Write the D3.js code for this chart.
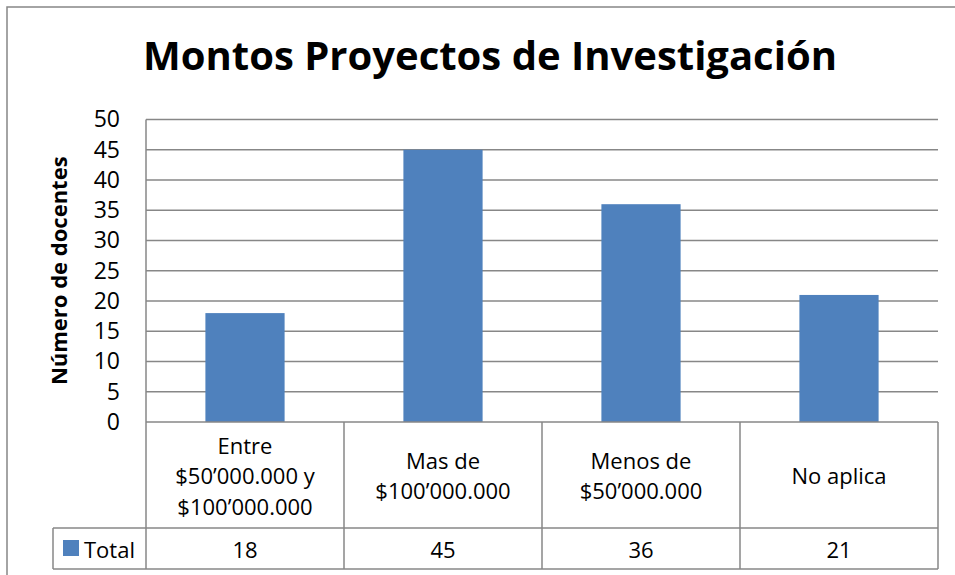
<!DOCTYPE html>
<html>
<head>
<meta charset="utf-8">
<script src="https://cdn.jsdelivr.net/npm/d3@7"></script>
<style>
  html, body { margin: 0; padding: 0; background: #fff; }
  svg { display: block; }
  text { font-family: "Open Sans", Lato, sans-serif; fill: #000; }
</style>
</head>
<body>
<svg id="chart" width="955" height="575"></svg>
<script>
const title = "Montos Proyectos de Investigación";
const yAxisTitle = "Número de docentes";
const seriesName = "Total";
const categories = ["Entre $50’000.000 y $100’000.000", "Mas de $100’000.000", "Menos de $50’000.000", "No aplica"];
const categoryLines = [["Entre", "$50’000.000 y", "$100’000.000"], ["Mas de", "$100’000.000"], ["Menos de", "$50’000.000"], ["No aplica"]];
const values = [18, 45, 36, 21];
const yTicks = [0, 5, 10, 15, 20, 25, 30, 35, 40, 45, 50];

const W = 955, H = 575;
const plot = { left: 146, right: 938, top: 119.5, bottom: 422 };
const table = { left: 53, catBottom: 528, bottom: 569 };
const grey = "#878787";
const barColor = "#4F81BD";
const font = "\"Open Sans\", Lato, sans-serif";

const svg = d3.select("#chart");

// outer chart border
svg.append("path")
  .attr("d", `M7,${H + 5} L7,7 L${W + 5},7`)
  .attr("fill", "none").attr("stroke", grey).attr("stroke-width", 1.5);

// title
svg.append("text")
  .attr("x", 490).attr("y", 70)
  .attr("text-anchor", "middle")
  .style("font-size", "40px").style("font-weight", "bold")
  .text(title);

const x = d3.scaleBand().domain(categories).range([plot.left, plot.right]).paddingInner(0.6).paddingOuter(0.3);
const xCol = d3.scaleBand().domain(categories).range([plot.left, plot.right]).padding(0);
const y = d3.scaleLinear().domain([0, 50]).range([plot.bottom, plot.top]);

// gridlines
svg.append("g").selectAll("line").data(yTicks.filter(d => d > 0)).join("line")
  .attr("x1", plot.left).attr("x2", plot.right)
  .attr("y1", d => y(d)).attr("y2", d => y(d))
  .attr("stroke", grey).attr("stroke-width", 1.5);

// y axis
const yAxis = d3.axisLeft(y).tickValues(yTicks).tickSize(0).tickPadding(26);
const gy = svg.append("g").attr("transform", `translate(${plot.left},0)`).call(yAxis);
gy.select(".domain").remove();
gy.selectAll("text").style("font-size", "23px").style("font-family", font).attr("fill", "#000");

// y axis title
svg.append("text")
  .attr("transform", `translate(67,${(plot.top + plot.bottom) / 2}) rotate(-90)`)
  .attr("text-anchor", "middle")
  .style("font-size", "22px").style("font-weight", "bold")
  .text(yAxisTitle);

// bars
svg.append("g").selectAll("rect").data(values).join("rect")
  .attr("x", (d, i) => x(categories[i]))
  .attr("width", x.bandwidth())
  .attr("y", d => y(d))
  .attr("height", d => y(0) - y(d))
  .attr("fill", barColor);

// table lines
const lines = svg.append("g").attr("stroke", grey).attr("stroke-width", 1.5);
lines.append("line").attr("x1", plot.left).attr("x2", plot.left).attr("y1", plot.top).attr("y2", table.bottom);
lines.append("line").attr("x1", plot.left).attr("x2", plot.right).attr("y1", plot.bottom).attr("y2", plot.bottom);
lines.append("line").attr("x1", table.left).attr("x2", plot.right).attr("y1", table.catBottom).attr("y2", table.catBottom);
lines.append("line").attr("x1", table.left).attr("x2", plot.right).attr("y1", table.bottom).attr("y2", table.bottom);
lines.append("line").attr("x1", table.left).attr("x2", table.left).attr("y1", table.catBottom).attr("y2", table.bottom);
lines.selectAll(".col").data(categories).join("line").attr("class", "col")
  .attr("x1", d => xCol(d) + xCol.bandwidth()).attr("x2", d => xCol(d) + xCol.bandwidth())
  .attr("y1", plot.bottom).attr("y2", table.bottom);

// category labels
const lineH = 30.5;
const catMid = (plot.bottom + table.catBottom) / 2;
categories.forEach((c, i) => {
  const ls = categoryLines[i];
  const t = svg.append("text")
    .attr("text-anchor", "middle")
    .style("font-size", "22px");
  ls.forEach((l, j) => {
    t.append("tspan")
      .attr("x", xCol(c) + xCol.bandwidth() / 2)
      .attr("y", catMid + (j - (ls.length - 1) / 2) * lineH)
      .attr("dominant-baseline", "central")
      .text(l);
  });
});

// data row
const rowMid = (table.catBottom + table.bottom) / 2;
svg.append("g").selectAll("text").data(values).join("text")
  .attr("x", (d, i) => xCol(categories[i]) + xCol.bandwidth() / 2)
  .attr("y", rowMid)
  .attr("dominant-baseline", "central")
  .attr("text-anchor", "middle")
  .style("font-size", "22px")
  .text(d => d);

// legend key
svg.append("rect").attr("x", 63).attr("y", 540).attr("width", 16).attr("height", 16).attr("fill", barColor);
svg.append("text").attr("x", 84).attr("y", rowMid).attr("dominant-baseline", "central")
  .style("font-size", "22px").text(seriesName);
</script>
</body>
</html>
